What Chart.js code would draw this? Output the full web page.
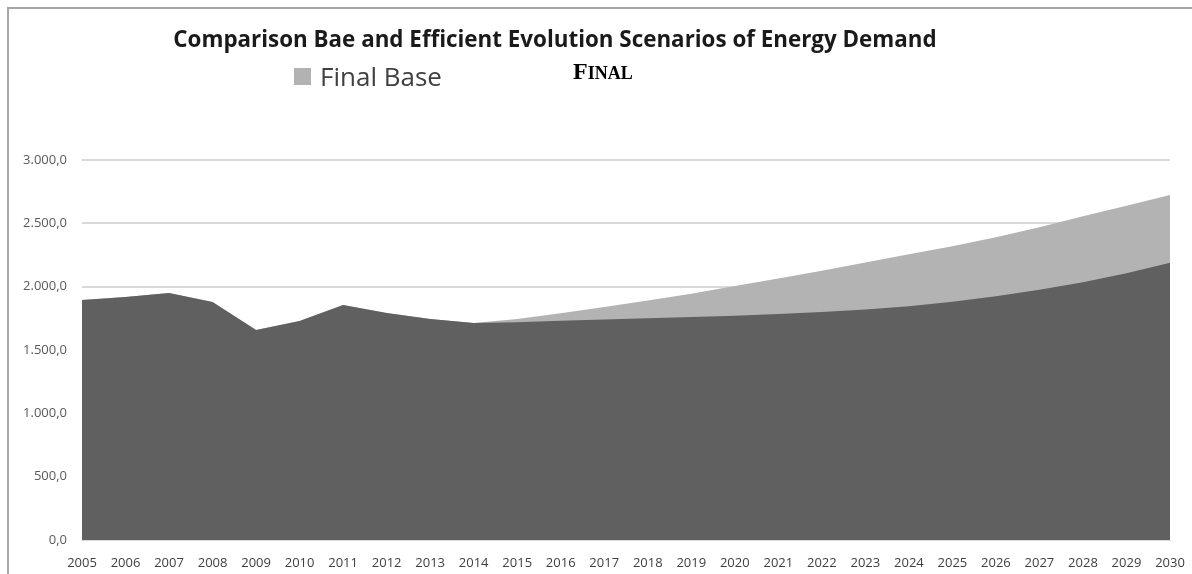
<!DOCTYPE html>
<html>
<head>
<meta charset="utf-8">
<script src="https://cdn.jsdelivr.net/npm/chart.js@4.4.1/dist/chart.umd.min.js"></script>
<style>
  html, body { margin: 0; padding: 0; background: #fff; }
  #wrap { position: relative; width: 1192px; height: 574px; overflow: hidden; }
  #frame { position: absolute; left: 7px; top: 7px; width: 1300px; height: 700px;
           border-left: 2px solid #a6a6a6; border-top: 2px solid #a6a6a6; }
  #chart { position: absolute; left: 0; top: 0; }
</style>
</head>
<body>
<div id="wrap">
  <div id="frame"></div>
  <canvas id="chart" width="1192" height="574"></canvas>
</div>
<script>
// years on the x axis
var years = ['2005','2006','2007','2008','2009','2010','2011','2012','2013','2014','2015','2016','2017',
             '2018','2019','2020','2021','2022','2023','2024','2025','2026','2027','2028','2029','2030'];

// Final Efficient (dark area)
var finalEfficient = [1895, 1918, 1950, 1878, 1657, 1728, 1855, 1792, 1744, 1713, 1720, 1730, 1740,
                      1750, 1760, 1770, 1785, 1800, 1820, 1845, 1880, 1925, 1975, 2035, 2105, 2188];

// Final Base (light area)
var finalBase = [1895, 1918, 1950, 1878, 1657, 1728, 1855, 1792, 1744, 1713, 1745, 1790, 1840,
                 1890, 1945, 2005, 2065, 2125, 2190, 2255, 2320, 2390, 2470, 2555, 2638, 2723];

var yTicks = [0, 500, 1000, 1500, 2000, 2500, 3000];

var titleText = 'Comparison Bae and Efficient Evolution Scenarios of Energy Demand';
var legendText = 'Final Base';

function fmt(v) {
    // 3000 -> "3.000,0"
    var s = Math.round(v).toString();
    s = s.replace(/\B(?=(\d{3})+(?!\d))/g, '.');
    return s + ',0';
}

// title, legend entry and "FINAL" caption in the header
var headerPlugin = {
    id: 'header',
    afterDraw: function(chart) {
        var c = chart.ctx;
        c.save();
        c.textBaseline = 'alphabetic';

        // title, sized to span the same width as the original
        c.font = 'bold 20px "Open Sans"';
        var tw = c.measureText(titleText).width;
        var size = 20 * 764 / tw;
        c.font = 'bold ' + size.toFixed(2) + 'px "Open Sans"';
        c.fillStyle = '#1a1a1a';
        c.textAlign = 'center';
        c.fillText(titleText, 555, 47);

        c.fillStyle = '#b2b2b2';
        c.fillRect(294, 68, 17, 17);
        c.fillStyle = '#404040';
        c.font = '26px "Open Sans"';
        c.textAlign = 'left';
        c.fillText(legendText, 320, 86);

        c.fillStyle = '#000';
        c.font = 'bold 24px "Liberation Serif"';
        c.fillText('F', 573, 79);
        var w = c.measureText('F').width;
        c.font = 'bold 18px "Liberation Serif"';
        c.fillText('INAL', 573 + w, 79);
        c.restore();
    }
};

var data = {
    labels: years,
    datasets: [{
        label: 'Final Efficient',
        data: finalEfficient,
        backgroundColor: '#606060',
        borderColor: '#606060',
        borderWidth: 0,
        pointRadius: 0,
        fill: 'origin',
        tension: 0
    }, {
        label: 'Final Base',
        data: finalBase,
        backgroundColor: '#b3b3b3',
        borderColor: '#b3b3b3',
        borderWidth: 0,
        pointRadius: 0,
        fill: 'origin',
        tension: 0
    }]
};

var config = {
    type: 'line',
    data: data,
    options: {
        responsive: false,
        animation: false,
        layout: { padding: { top: 160, right: 22, left: 0, bottom: 0 } },
        plugins: {
            legend: { display: false },
            title: { display: false },
            tooltip: { enabled: false }
        },
        scales: {
            x: {
                offset: false,
                grid: { display: false, drawTicks: false },
                border: { display: true, color: '#d9d9d9' },
                ticks: {
                    color: '#404040',
                    font: { family: '"Open Sans"', size: 13 },
                    padding: 15,
                    maxRotation: 0,
                    autoSkip: false
                },
                afterFit: function(scale) {
                    scale.height = 34;
                    scale.paddingLeft = 0;
                    scale.paddingRight = 0;
                }
            },
            y: {
                min: 0,
                max: 3000,
                afterBuildTicks: function(scale) {
                    scale.ticks = yTicks.map(function(v) { return { value: v }; });
                },
                grid: { color: '#d9d9d9', lineWidth: 2, drawTicks: false },
                border: { display: false },
                ticks: {
                    color: '#595959',
                    font: { family: '"Open Sans"', size: 13 },
                    padding: 15,
                    callback: function(v) { return fmt(v); }
                },
                afterFit: function(scale) { scale.width = 82; }
            }
        }
    },
    plugins: [headerPlugin]
};

var myChart = new Chart(document.getElementById('chart'), config);
</script>
</body>
</html>
